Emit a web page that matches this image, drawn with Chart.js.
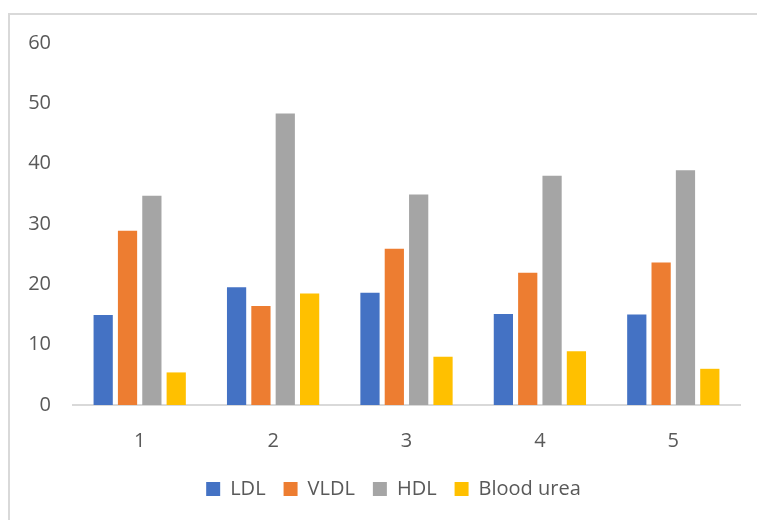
<!DOCTYPE html>
<html>
<head>
<meta charset="utf-8">
<script src="https://cdn.jsdelivr.net/npm/chart.js@4/dist/chart.umd.min.js"></script>
<style>
  html, body { margin: 0; padding: 0; background: #fff; }
  #wrap { position: relative; width: 757px; height: 520px; overflow: hidden; }
  #frame { position: absolute; left: 8px; top: 13px; width: 800px; height: 600px;
           border-left: 2px solid #d9d9d9; border-top: 2px solid #d9d9d9; }
  #c { position: absolute; left: 0; top: 0; }
</style>
</head>
<body>
<div id="wrap">
  <div id="frame"></div>
  <canvas id="c" width="757" height="520"></canvas>
</div>
<script>
// Sample groups and measured values
const categories = ['1', '2', '3', '4', '5'];
const ldl        = [14.9, 19.5, 18.6, 15.1, 15.0];
const vldl       = [28.9, 16.4, 25.9, 21.9, 23.6];
const hdl        = [34.7, 48.3, 34.9, 38.0, 38.9];
const bloodUrea  = [5.4, 18.5, 8.0, 8.9, 6.0];
const yMin = 0, yMax = 60, yStep = 10;

const FONT = "'Open Sans', Lato, sans-serif";
const TEXT = '#595959';

function series(label, data, color) {
  return {
    label, data,
    backgroundColor: color,
    borderWidth: 0,
    categoryPercentage: 0.73,
    barPercentage: 0.79
  };
}

// Centre the legend row a little right of the canvas middle
const legendShift = {
  id: 'legendShift',
  afterLayout(chart) {
    const lg = chart.legend;
    if (!lg) return;
    lg.left = 47;
    lg.right = chart.chartArea.right;
    lg.width = lg.right - lg.left;
  }
};

new Chart(document.getElementById('c'), {
  type: 'bar',
  data: {
    labels: categories,
    datasets: [
      series('LDL', ldl, '#4472C4'),
      series('VLDL', vldl, '#ED7D31'),
      series('HDL', hdl, '#A5A5A5'),
      series('Blood urea', bloodUrea, '#FFC000')
    ]
  },
  plugins: [legendShift],
  options: {
    responsive: false,
    animation: false,
    layout: { padding: { left: 0, right: 17, top: 43, bottom: 11 } },
    plugins: {
      tooltip: { enabled: false },
      legend: {
        position: 'bottom',
        labels: {
          boxWidth: 14, boxHeight: 14, padding: 18,
          color: TEXT,
          font: { family: FONT, size: 20 }
        }
      }
    },
    scales: {
      x: {
        grid: { display: false },
        border: { display: true, color: '#d9d9d9', width: 2 },
        ticks: { color: TEXT, padding: 16, font: { family: FONT, size: 20 } },
        afterFit(axis) { axis.height = 56; }
      },
      y: {
        min: yMin, max: yMax,
        grid: { display: false },
        border: { display: false },
        ticks: { stepSize: yStep, color: TEXT, padding: 14, font: { family: FONT, size: 20 } },
        afterFit(axis) { axis.width = 73; }
      }
    }
  }
});
</script>
</body>
</html>
